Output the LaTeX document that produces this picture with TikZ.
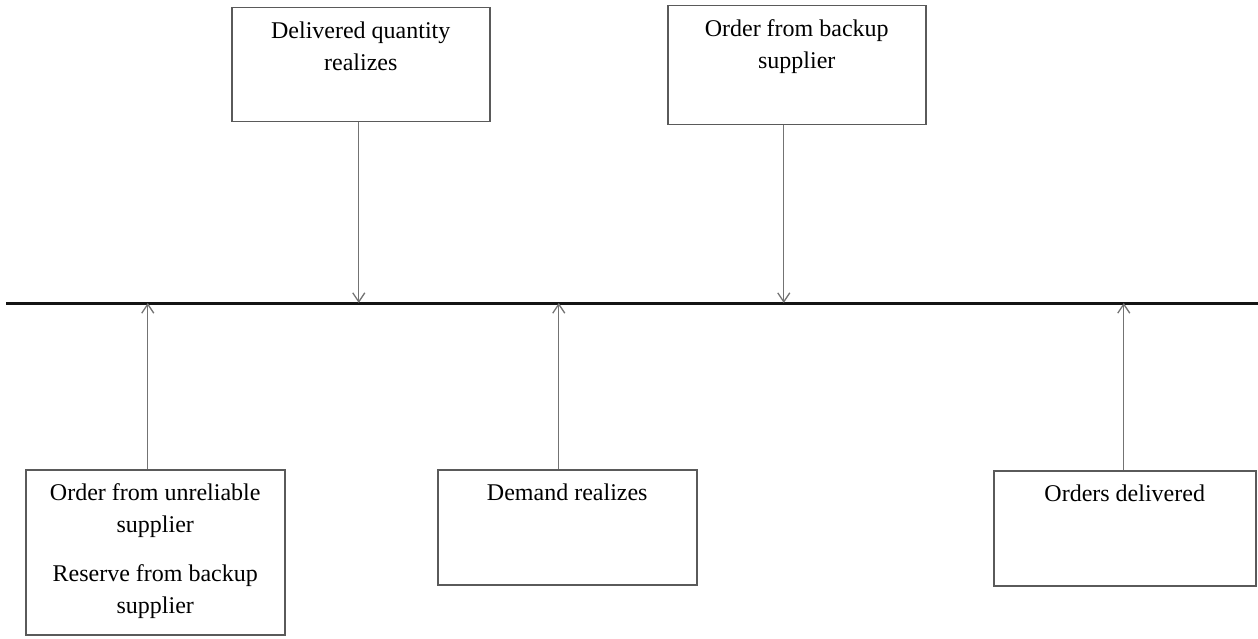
\documentclass[tikz,border=0pt]{standalone}
\usepackage{fontspec}
\setmainfont{Liberation Serif}
\usepackage{tikz}
\usetikzlibrary{arrows.meta,positioning}
\usepackage{xcolor}
\definecolor{tlblack}{RGB}{20,20,20}
\definecolor{boxgray}{RGB}{90,90,90}
\definecolor{arrgray}{RGB}{115,115,115}
\tikzstyle{evbox} = [rectangle, draw=boxgray, line width=1.5pt, inner sep=0pt, anchor=north west]
\tikzstyle{evarrow} = [line width=1.3pt, color=arrgray, -{Straight Barb[length=9pt,width=12pt]}]
\newcommand{\evtext}[3]{\parbox[t][#2][t]{#1}{\centering\fontsize{24}{32}\selectfont\rule{0pt}{31pt}#3}}

\begin{document}
\begin{tikzpicture}[x=1pt, y=-1pt]
\useasboundingbox (0,0) rectangle (1258,639);
% Time line
\coordinate (tl) at (6,303);
\coordinate (tlend) at (1258,303);
\draw[line width=3pt, tlblack] (tl) -- (tlend);

% Events above the line
\node[evbox] (deliv) at (231,7) {\evtext{258pt}{114pt}{Delivered quantity\\realizes}};
\node[evbox] (backup) at (667,5) {\evtext{258pt}{119pt}{Order from backup\\supplier}};

% Events below the line
\node[evbox] (unrel) at (25,469) {\evtext{259pt}{165pt}{Order from unreliable\\supplier\\[17pt]Reserve from backup\\supplier}};
\node[evbox] (demand) at (437,469) {\evtext{259pt}{115pt}{Demand realizes}};
\node[evbox] (orders) at (993,470) {\evtext{262pt}{115pt}{Orders delivered}};

% Arrows to the line
\draw[evarrow] ([xshift=-2pt]deliv.south) -- ([xshift=-2pt]deliv.south |- tl);
\draw[evarrow] ([xshift=-13pt]backup.south) -- ([xshift=-13pt]backup.south |- tl);
\draw[evarrow] ([xshift=-7.5pt]unrel.north) -- ([xshift=-7.5pt]unrel.north |- tl);
\draw[evarrow] ([xshift=-8.5pt]demand.north) -- ([xshift=-8.5pt]demand.north |- tl);
\draw[evarrow] ([xshift=-1pt]orders.north) -- ([xshift=-1pt]orders.north |- tl);
\end{tikzpicture}
\end{document}
